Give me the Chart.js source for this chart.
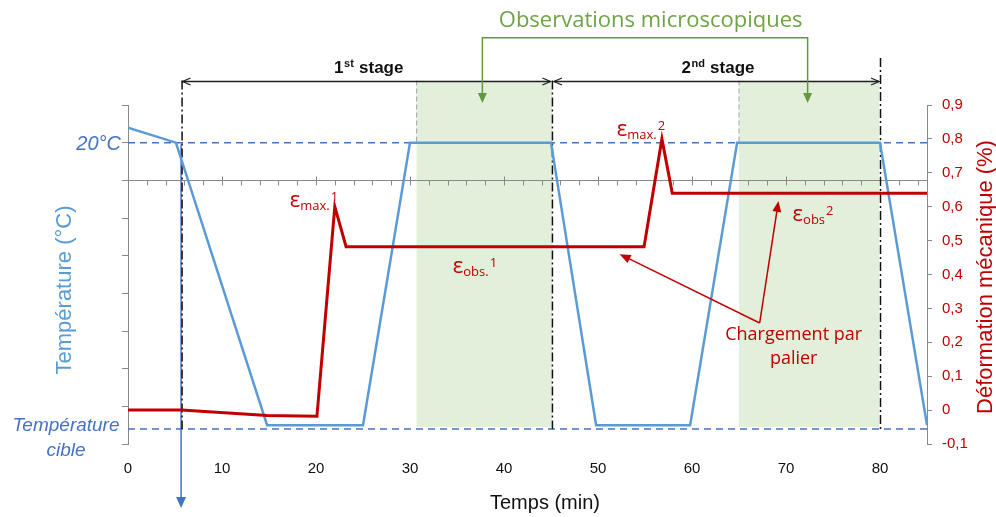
<!DOCTYPE html>
<html><head><meta charset="utf-8">
<script src="https://cdn.jsdelivr.net/npm/chart.js@4.4.0/dist/chart.umd.min.js"></script>
<style>html,body{margin:0;padding:0;background:#fff}canvas{display:block}</style>
</head><body>
<canvas id="c" width="996" height="517"></canvas>
<script>
// ---- data (time in min) ----
const tempTime   = [0, 5.1, 14.8, 25, 30, 45, 49.8, 59.8, 64.8, 80, 85];
const tempValues = [28, 20, -130, -130, 20, 20, -130, -130, 20, 20, -130];   // °C
const strainTime   = [0, 5.7, 14.8, 20.1, 22, 23.2, 54.9, 56.8, 57.9, 85];
const strainValues = [0, 0, -0.016, -0.018, 0.60, 0.482, 0.482, 0.80, 0.64, 0.64]; // %
const xTickLabels = ['0','10','20','30','40','50','60','70','80'];
const rightTickLabels = ['-0,1','0','0,1','0,2','0,3','0,4','0,5','0,6','0,7','0,8','0,9'];
const refTemps = [20, -132];                 // 20°C line, target temperature line
const observationWindows = [[30.7, 45.1], [65, 79.9]];
const stageBounds = [5.7, 45.1, 80];
const stageNames = [['1','st'], ['2','nd']];
const epsLabels = [
  {x:17.2, y:0.599, sub:'max.', sup:'1'},
  {x:34.55, y:0.404, sub:'obs.', sup:'1'},
  {x:52.0, y:0.809, sub:'max.', sup:'2'},
  {x:70.7, y:0.558, sub:'obs', sup:'2'}
];
const loadArrow = {from:[67.2, 0.257], to:[[52.3, 0.46], [69.2, 0.617]]};

// ---- styles ----
const C_RED='#c00000', C_BLUE='#5b9bd5', C_DBLUE='#4472c4', C_GREEN='#70a347',
      C_GREENL='#63993d', C_FILL='#e2efda', C_AXIS='#898989';
const SANS='"Liberation Sans", Arial, sans-serif', CAL='"Open Sans", sans-serif';
Chart.defaults.font.family = SANS;

function line(ctx,x1,y1,x2,y2){ctx.beginPath();ctx.moveTo(x1,y1);ctx.lineTo(x2,y2);ctx.stroke();}
function head(ctx,x1,y1,x2,y2,len,half,filled){
  const a=Math.atan2(y2-y1,x2-x1), bx=x2-len*Math.cos(a), by=y2-len*Math.sin(a);
  const px=-Math.sin(a)*half, py=Math.cos(a)*half;
  ctx.beginPath();ctx.moveTo(bx+px,by+py);ctx.lineTo(x2,y2);ctx.lineTo(bx-px,by-py);
  if(filled){ctx.closePath();ctx.fill();}else ctx.stroke();
}

const decor = {
  id:'decor',
  beforeDatasetsDraw(chart){
    const ctx=chart.ctx, xs=chart.scales.x, yT=chart.scales.yT;
    const X=v=>xs.getPixelForValue(v), T=v=>yT.getPixelForValue(v);
    const bandTop=53, bandBottom=-131;
    ctx.save();
    ctx.fillStyle=C_FILL;
    observationWindows.forEach(([a,b])=>ctx.fillRect(X(a),T(bandTop),X(b)-X(a),T(bandBottom)-T(bandTop)));
    ctx.strokeStyle='#a5a5a5';ctx.lineWidth=1;ctx.setLineDash([5,3]);
    observationWindows.forEach(([a])=>line(ctx,X(a),T(bandTop),X(a),T(20)));
    ctx.strokeStyle=C_DBLUE;ctx.lineWidth=1.5;ctx.setLineDash([7,5]);
    refTemps.forEach(t=>line(ctx,X(xs.min),T(t),X(xs.max),T(t)));
    ctx.setLineDash([]);
    // horizontal axis crossing at 0 °C
    ctx.strokeStyle=C_AXIS;ctx.lineWidth=1;
    const y0=Math.round(T(0))+0.5;
    line(ctx,X(xs.min),y0,X(xs.max),y0);
    for(let v=2; v<xs.max; v+=2){
      const px=Math.round(X(v))+0.5;
      if(v%10===0) line(ctx,px,y0-4,px,y0+5); else line(ctx,px,y0,px,y0+5);
    }
    // blue arrow
    ctx.strokeStyle=C_DBLUE;ctx.fillStyle=C_DBLUE;ctx.lineWidth=1.5;
    const bx=X(stageBounds[0])-0.5;
    line(ctx,bx,T(19),bx,T(-174)-6);
    head(ctx,bx,T(19),bx,T(-174),11,5,true);
    // dash-dot stage bounds
    ctx.strokeStyle='#111';ctx.lineWidth=1.5;ctx.setLineDash([9,3,2,3]);
    stageBounds.forEach((b,i)=>line(ctx,X(b)+0.5,T(i===2?65:bandTop),X(b)+0.5,T(-132)));
    ctx.restore();
  },
  afterDraw(chart){
    const ctx=chart.ctx, xs=chart.scales.x, yT=chart.scales.yT, yD=chart.scales.yD;
    const X=v=>xs.getPixelForValue(v), T=v=>yT.getPixelForValue(v), D=v=>yD.getPixelForValue(v);
    ctx.save();
    // stage double arrows
    const ay=Math.round(T(53))+0.5;
    ctx.strokeStyle='#222';ctx.fillStyle='#111';ctx.lineWidth=1.3;
    for(let i=0;i<2;i++){
      const x1=X(stageBounds[i])+(i?2:1), x2=X(stageBounds[i+1])-(i?1:1.5);
      line(ctx,x1,ay,x2,ay);
      head(ctx,x2,ay,x1,ay,8,3.5,false);
      head(ctx,x1,ay,x2,ay,8,3.5,false);
      // label
      const cx=(X(stageBounds[i])+X(stageBounds[i+1]))/2+2, ty=ay-8.5;
      const [n,s]=stageNames[i], rest=' stage';
      const fB='bold 17px '+SANS, fS='bold 11px '+SANS;
      ctx.font=fB; const w1=ctx.measureText(n).width, w3=ctx.measureText(rest).width;
      ctx.font=fS; const w2=ctx.measureText(s).width;
      let x=cx-(w1+w2+w3+1)/2; ctx.textAlign='left';ctx.textBaseline='alphabetic';
      ctx.font=fB;ctx.fillText(n,x,ty);x+=w1;
      ctx.font=fS;ctx.fillText(s,x+0.5,ty-6);x+=w2+1;
      ctx.font=fB;ctx.fillText(rest,x,ty);
    }
    // observations bracket
    ctx.strokeStyle=C_GREENL;ctx.fillStyle=C_GREENL;ctx.lineWidth=1.5;
    const bl=X(37.7), br=X(72.3), bt=T(75.7), tip=T(41);
    ctx.beginPath();ctx.moveTo(bl,tip-6);ctx.lineTo(bl,bt);ctx.lineTo(br,bt);ctx.lineTo(br,tip-6);ctx.stroke();
    head(ctx,bl,bt,bl,tip,10,4.5,true);head(ctx,br,bt,br,tip,10,4.5,true);
    ctx.fillStyle=C_GREEN;ctx.font='22px '+CAL;ctx.textAlign='center';
    ctx.fillText('Observations microscopiques',X(55.6),bt-11);
    // epsilon labels
    ctx.fillStyle=C_RED;ctx.textAlign='left';
    epsLabels.forEach(e=>{
      const x=X(e.x), y=D(e.y);
      ctx.font='22px '+CAL; ctx.fillText('ε',x,y); const w=ctx.measureText('ε').width;
      ctx.font='13px '+CAL; ctx.fillText(e.sub,x+w,y+3); const w2=ctx.measureText(e.sub).width;
      ctx.fillText(e.sup,x+w+w2+1,y-6);
    });
    // loading arrows
    ctx.strokeStyle=C_RED;ctx.fillStyle=C_RED;ctx.lineWidth=1.5;
    const fx=X(loadArrow.from[0]), fy=D(loadArrow.from[1]);
    loadArrow.to.forEach(([tx,ty])=>{
      const px=X(tx), py=D(ty);
      const a=Math.atan2(py-fy,px-fx);
      line(ctx,fx,fy,px-8*Math.cos(a),py-8*Math.sin(a));
      head(ctx,fx,fy,px,py,11,4.5,true);
    });
    ctx.font='18px '+CAL;ctx.textAlign='center';
    ctx.fillText('Chargement par',fx+34,fy+17);
    ctx.fillText('palier',fx+34,fy+41);
    // text near left axis
    ctx.fillStyle=C_DBLUE;ctx.font='italic 20px '+SANS;ctx.textAlign='right';ctx.textBaseline='middle';
    ctx.fillText('20°C',chart.chartArea.left-7,T(20)+2);
    ctx.textAlign='center';ctx.textBaseline='alphabetic';ctx.font='italic 19px '+SANS;
    ctx.fillText('Température',66,431);
    ctx.fillText('cible',66,456);
    // axis titles
    ctx.textBaseline='middle';
    ctx.save();ctx.translate(65,290);ctx.rotate(-Math.PI/2);
    ctx.fillStyle=C_BLUE;ctx.font='22px '+SANS;ctx.fillText('Température (°C)',0,0);ctx.restore();
    ctx.save();ctx.translate(986,277);ctx.rotate(-Math.PI/2);
    ctx.fillStyle=C_RED;ctx.font='22px '+SANS;ctx.fillText('Déformation mécanique (%)',0,0);ctx.restore();
    ctx.fillStyle='#111';ctx.font='20px '+SANS;ctx.textBaseline='alphabetic';
    ctx.fillText('Temps (min)',545,509);
    ctx.restore();
  }
};

new Chart(document.getElementById('c'),{
  type:'line',
  data:{datasets:[
    {label:'Déformation mécanique (%)',data:strainTime.map((t,i)=>({x:t,y:strainValues[i]})),
     yAxisID:'yD',borderColor:C_RED,borderWidth:3,pointRadius:0,tension:0,fill:false},
    {label:'Température (°C)',data:tempTime.map((t,i)=>({x:t,y:tempValues[i]})),
     yAxisID:'yT',borderColor:C_BLUE,borderWidth:2.5,pointRadius:0,tension:0,fill:false}
  ]},
  options:{
    responsive:false,animation:false,devicePixelRatio:1,
    layout:{padding:{top:105,left:0,right:0,bottom:0}},
    plugins:{legend:{display:false},tooltip:{enabled:false}},
    scales:{
      x:{type:'linear',min:0,max:85,afterFit(s){s.height=73;},
         grid:{display:false,drawTicks:false},border:{display:false},
         ticks:{stepSize:10,includeBounds:false,padding:16,color:'#111',font:{size:15},
                callback:(v,i)=>xTickLabels[i]??''}},
      yT:{type:'linear',position:'left',min:-140,max:40,afterFit(s){s.width=128;},
          grid:{drawOnChartArea:false,tickLength:6,color:C_AXIS},border:{color:C_AXIS},
          ticks:{stepSize:20,callback:()=>''}},
      yD:{type:'linear',position:'right',min:-0.1,max:0.9,afterFit(s){s.width=69;},
          grid:{drawOnChartArea:false,tickLength:5,color:C_AXIS},border:{color:C_AXIS},
          ticks:{stepSize:0.1,padding:10,color:C_RED,font:{size:15},
                 callback:(v,i)=>rightTickLabels[i]??''}}
    }
  },
  plugins:[decor]
});
</script>
</body></html>
